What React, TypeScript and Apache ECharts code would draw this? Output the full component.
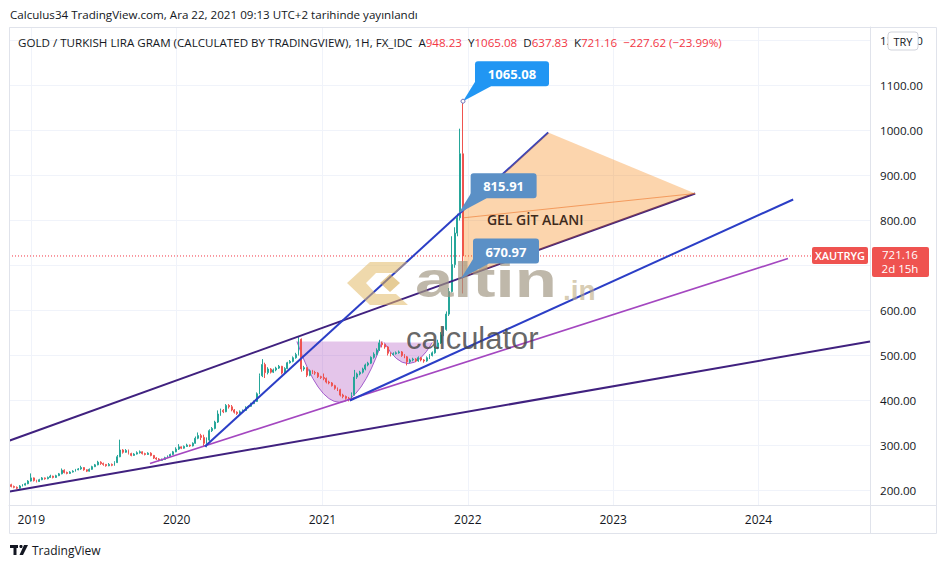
import React, { useEffect, useRef } from 'react';
import * as echarts from 'echarts';

// ---------- data ----------
const PUBLISHED = 'Calculus34 TradingView.com, Ara 22, 2021 09:13 UTC+2 tarihinde yayınlandı';
const HEADER_TITLE = 'GOLD / TURKISH LIRA GRAM (CALCULATED BY TRADINGVIEW), 1H, FX_IDC';
const OHLC_LETTERS = ['A', 'Y', 'D', 'K'];
const OHLC_VALUES = ['948.23', '1065.08', '637.83', '721.16'];
const CHANGE_TEXT = '−227.62 (−23.99%)';
const SYMBOL = 'XAUTRYG';
const COUNTDOWN = '2d 15h';
const CURRENCY = 'TRY';
const LAST_CLOSE = 721.16;

const AXIS_START = '2018-11-06';
const AXIS_END = '2024-10-07';
const Y_MIN = 167.8;
const Y_MAX = 1230;

const WEEK_START = '2018-11-12';
// weekly candles: [open, close, low, high]
const weeklyOCLH: number[][] = [
  [213, 209, 207, 215], [209, 207, 205, 211], [207, 205, 203, 209], [205, 210, 204, 212],
  [210, 212, 209, 214], [212, 215, 211, 217], [215, 221, 214, 223], [221, 228, 220, 238],
  // 2019
  [228, 222, 220, 229], [222, 220, 218, 224], [220, 224, 219, 226], [224, 228, 223, 230],
  [228, 226, 224, 229], [226, 229, 225, 231], [229, 232, 228, 235], [232, 229, 227, 233],
  [229, 233, 228, 235], [233, 237, 232, 239], [237, 245, 236, 249], [245, 240, 238, 247],
  [240, 238, 236, 242], [238, 241, 237, 243], [241, 243, 240, 245], [243, 246, 242, 248],
  [246, 248, 245, 250], [248, 251, 246, 255], [251, 246, 244, 252], [246, 243, 241, 247],
  [243, 247, 242, 249], [247, 253, 246, 255], [253, 257, 252, 259], [257, 263, 256, 266],
  [263, 260, 257, 265], [260, 258, 255, 262], [258, 255, 253, 259], [255, 258, 254, 261],
  [258, 256, 254, 260], [256, 262, 255, 265], [262, 275, 261, 279], [275, 290, 274, 313],
  [290, 285, 282, 292], [285, 289, 284, 292], [289, 282, 280, 291], [282, 278, 276, 284],
  [278, 281, 277, 283], [281, 284, 280, 287], [284, 286, 282, 289], [286, 282, 280, 287],
  [282, 280, 278, 284], [280, 283, 279, 285], [283, 278, 276, 285], [278, 272, 270, 279],
  [272, 270, 268, 274], [270, 267, 265, 272], [267, 269, 266, 271], [269, 273, 268, 275],
  [273, 276, 272, 278], [276, 280, 275, 282], [280, 286, 279, 288], [286, 292, 285, 296],
  // 2020
  [292, 297, 290, 303], [297, 294, 292, 298], [294, 298, 293, 300], [298, 301, 297, 304],
  [301, 299, 297, 302], [299, 305, 298, 307], [305, 316, 304, 320], [316, 322, 314, 329],
  [322, 318, 312, 326], [318, 305, 298, 324], [305, 312, 296, 318], [312, 333, 310, 336],
  [333, 338, 330, 341], [338, 352, 336, 355], [352, 370, 350, 378], [370, 378, 366, 382],
  [378, 375, 372, 381], [375, 389, 374, 392], [389, 386, 382, 392], [386, 379, 376, 390],
  [379, 374, 371, 381], [374, 371, 368, 376], [371, 375, 369, 378], [375, 378, 373, 380],
  [378, 385, 377, 387], [385, 387, 383, 389], [387, 393, 386, 395], [393, 398, 392, 400],
  [398, 415, 397, 418], [415, 455, 414, 460], [455, 480, 452, 492], [480, 462, 450, 484],
  [462, 470, 458, 474], [470, 463, 460, 472], [463, 468, 461, 471], [468, 472, 465, 475],
  [472, 476, 470, 479], [476, 461, 458, 477], [461, 471, 460, 474], [471, 484, 470, 486],
  [484, 487, 482, 490], [487, 495, 485, 498], [495, 502, 493, 506], [502, 536, 500, 541],
  [536, 470, 464, 538], [470, 473, 466, 477], [473, 456, 452, 474], [456, 466, 454, 469],
  [466, 462, 459, 468], [462, 461, 457, 466], [461, 453, 450, 463], [453, 451, 448, 455],
  // 2021
  [451, 449, 445, 460], [449, 441, 438, 451], [441, 439, 436, 444], [439, 433, 431, 441],
  [433, 427, 424, 435], [427, 424, 421, 429], [424, 412, 409, 426], [412, 409, 405, 415],
  [409, 405, 402, 411], [405, 402, 398, 408], [402, 413, 400, 418], [413, 452, 411, 468],
  [452, 459, 448, 462], [459, 463, 456, 466], [463, 470, 460, 473], [470, 479, 467, 482],
  [479, 483, 476, 486], [483, 496, 481, 498], [496, 503, 493, 507], [503, 512, 500, 516],
  [512, 528, 510, 535], [528, 524, 518, 531], [524, 519, 515, 526], [519, 505, 500, 521],
  [505, 502, 498, 507], [502, 504, 500, 507], [504, 506, 502, 509], [506, 508, 504, 511],
  [508, 500, 497, 510], [500, 497, 494, 503], [497, 486, 478, 499], [486, 490, 483, 493],
  [490, 492, 487, 495], [492, 488, 485, 494], [488, 495, 486, 498], [495, 490, 487, 497],
  [490, 488, 484, 492], [488, 495, 486, 498], [495, 500, 492, 503], [500, 506, 498, 509],
  [506, 516, 504, 520], [516, 528, 514, 535], [528, 546, 526, 552], [546, 558, 543, 565],
  [558, 592, 555, 598], [592, 642, 588, 650], [642, 702, 640, 765], [702, 772, 695, 785],
  [772, 806, 765, 815], [806, 948.23, 800, 1004], [948.23, 721.16, 637.83, 1065.08],
];

// trend lines drawn on the chart: [date, price]
const channelTop = [['2018-11-08', 311.1], ['2023-07-26', 860]];
const channelBottom = [['2018-11-08', 197.8], ['2024-10-07', 531.1]];
const steepSupport = [['2020-03-12', 297.8], ['2022-07-22', 995.6]];
const cupSupport = [['2021-03-11', 400], ['2024-03-28', 846.7]];
const violetSupport = [['2019-10-26', 260], ['2024-03-15', 715.6]];
const lastPriceLine = [[AXIS_START, LAST_CLOSE], [AXIS_END, LAST_CLOSE]];
// "gel git" zone
const zoneVertices = [['2021-12-21', 823], ['2022-07-22', 995.6], ['2023-07-26', 860], ['2021-12-21', 674]];
const zoneMidLine = [['2021-12-21', 806], ['2023-07-26', 860]];
// cup & handle arcs: [start, end, rim price, bottom price]
const cupArcs = [['2020-10-29', '2021-05-31', 531, 396], ['2021-06-05', '2021-10-04', 529, 482]];
// price callouts
const calloutPoints = [['2021-12-20', 1065.08], ['2021-12-09', 815.91], ['2021-12-15', 670.97]];
const calloutLabels = ['1065.08', '815.91', '670.97'];
const notePoints = [['2022-02-18', 802]];
const noteLabels = ['GEL GİT ALANI'];

// ---------- helpers ----------
const toTime = (s: string) => {
  const [y, m, d] = s.split('-').map(Number);
  return new Date(y, m - 1, d).getTime();
};
const DAY = 86400000;
const pts = (arr: any[]) => arr.map((p) => [toTime(p[0] as string), p[1] as number]);

const FONT = '"Open Sans", "Noto Sans", sans-serif';
const TEXT = '#131722';
const UP = '#26a69a';
const DOWN = '#ef5350';

export default function App() {
  const ref = useRef<HTMLDivElement>(null);

  useEffect(() => {
    if (!ref.current) return;
    const chart = echarts.init(ref.current, null, { renderer: 'svg' });
    const start = toTime(WEEK_START);
    const candleData = weeklyOCLH.map((c, i) => [start + i * 7 * DAY, c[0], c[1], c[2], c[3]]);
    const xMax = toTime(AXIS_END);

    const lineSeries = (data: any[], color: string, width: number, z: number, type: any = 'solid') => ({
      type: 'line',
      data: pts(data),
      symbol: 'none',
      silent: true,
      z,
      lineStyle: { color, width, type },
    });

    const zoneTimes = pts(zoneVertices);

    const option: any = {
      animation: false,
      grid: { left: 9, right: 75, top: 27, bottom: 63 },
      xAxis: {
        type: 'time',
        min: toTime(AXIS_START),
        max: xMax,
        splitNumber: 6,
        minInterval: 365 * DAY,
        maxInterval: 366 * DAY,
        axisLine: { show: true, lineStyle: { color: '#e0e3eb' } },
        axisTick: { show: false },
        splitLine: { show: true, lineStyle: { color: '#f0f3fa' } },
        axisLabel: {
          color: TEXT,
          fontFamily: FONT,
          fontSize: 12,
          margin: 8,
          showMinLabel: false,
          showMaxLabel: false,
          formatter: (v: number) => {
            const d = new Date(v);
            return d.getMonth() === 0 && d.getDate() === 1 ? String(d.getFullYear()) : '';
          },
        },
      },
      yAxis: {
        type: 'value',
        position: 'right',
        min: Y_MIN,
        max: Y_MAX,
        splitNumber: 10,
        minInterval: 100,
        maxInterval: 100,
        axisLine: { show: true, lineStyle: { color: '#e0e3eb' } },
        axisTick: { show: false },
        splitLine: { show: true, lineStyle: { color: '#f0f3fa' } },
        axisLabel: {
          color: TEXT,
          fontFamily: FONT,
          fontSize: 11.6,
          margin: 10,
          // labels hidden under the last-price tag are not drawn
          formatter: (v: number) =>
            Math.abs(v % 100) < 0.01 && Math.abs(v - LAST_CLOSE) > 30 ? v.toFixed(2) : '',
        },
      },
      series: [
        {
          type: 'custom',
          name: 'cup',
          z: 1,
          silent: true,
          data: cupArcs.map((a) => [toTime(a[0] as string), a[2], toTime(a[1] as string), a[3]]),
          encode: { x: [0, 2], y: [1, 3] },
          renderItem: (params: any, api: any) => {
            const l = api.coord([api.value(0), api.value(1)]);
            const r = api.coord([api.value(2), api.value(1)]);
            const b = api.coord([(api.value(0) + api.value(2)) / 2, api.value(3)]);
            const cy = 2 * b[1] - l[1];
            const curve = `M${l[0]},${l[1]} Q${b[0]},${cy} ${r[0]},${r[1]}`;
            return {
              type: 'group',
              children: [
                { type: 'path', shape: { pathData: curve + ' Z' }, style: { fill: 'rgba(156,39,176,0.27)', stroke: 'none' } },
                { type: 'path', shape: { pathData: curve }, style: { fill: 'none', stroke: '#a35ccc', lineWidth: 1 } },
              ],
            };
          },
        },
        lineSeries(lastPriceLine, '#f23645', 1, 2, [1, 2]),
        {
          type: 'candlestick',
          name: SYMBOL,
          z: 2,
          barWidth: 1.4,
          data: candleData,
          itemStyle: { color: UP, color0: DOWN, borderColor: UP, borderColor0: DOWN, borderWidth: 1 },
        },
        lineSeries(channelBottom, '#40217f', 2, 3),
        lineSeries(channelTop, '#40217f', 2, 3),
        lineSeries(violetSupport, '#a447c0', 1.6, 3),
        lineSeries(cupSupport, '#2b3ec6', 2, 3),
        lineSeries(steepSupport, '#2b3ec6', 2, 3),
        {
          type: 'custom',
          name: 'zone',
          z: 4,
          silent: true,
          data: zoneTimes,
          renderItem: (params: any, api: any) => {
            if (params.dataIndex !== 0) return null;
            const poly = zoneTimes.map((p) => api.coord(p));
            const mid = pts(zoneMidLine).map((p) => api.coord(p));
            return {
              type: 'group',
              children: [
                { type: 'polygon', shape: { points: poly }, style: { fill: 'rgba(245,124,0,0.32)' } },
                { type: 'polyline', shape: { points: mid }, style: { stroke: 'rgba(240,130,60,0.7)', lineWidth: 1, fill: 'none' } },
              ],
            };
          },
        },
        {
          type: 'custom',
          name: 'notes',
          z: 5,
          silent: true,
          data: pts(notePoints),
          renderItem: (params: any, api: any) => {
            const p = api.coord([api.value(0), api.value(1)]);
            return {
              type: 'text',
              style: {
                text: noteLabels[params.dataIndex],
                x: p[0],
                y: p[1],
                align: 'left',
                verticalAlign: 'middle',
                fill: '#3e2a1c',
                fontSize: 14,
                fontWeight: 600,
                fontFamily: FONT,
              },
            };
          },
        },
        {
          type: 'custom',
          name: 'callouts',
          z: 20,
          silent: true,
          data: pts(calloutPoints),
          renderItem: (params: any, api: any) => {
            const p = api.coord([api.value(0), api.value(1)]);
            const i = params.dataIndex;
            const label = calloutLabels[i];
            const w = label.length * 8 + 18;
            const h = 25;
            const bx = p[0] + 12;
            const by = p[1] - 40;
            const fill = i === 0 ? '#2196f3' : '#5b90c6';
            const children: any[] = [
              { type: 'polygon', shape: { points: [[p[0], p[1]], [bx + 1, by + h - 6], [bx + 16, by + h]] }, style: { fill } },
              { type: 'rect', shape: { x: bx, y: by, width: w, height: h, r: 3 }, style: { fill } },
              {
                type: 'text',
                style: {
                  text: label, x: bx + w / 2, y: by + h / 2 + 0.5, align: 'center', verticalAlign: 'middle',
                  fill: '#ffffff', fontSize: 13, fontWeight: 'bold', fontFamily: FONT,
                },
              },
            ];
            if (i === 0) {
              children.push({ type: 'circle', shape: { cx: p[0], cy: p[1], r: 2 }, style: { fill: '#ffffff', stroke: '#6a6fb8', lineWidth: 1 } });
            }
            return { type: 'group', children };
          },
        },
        {
          type: 'custom',
          name: 'pricetag',
          z: 21,
          silent: true,
          data: [[xMax, LAST_CLOSE]],
          renderItem: (params: any, api: any) => {
            const p = api.coord([api.value(0), api.value(1)]);
            return {
              type: 'group',
              children: [
                { type: 'rect', shape: { x: p[0] - 58, y: p[1] - 9, width: 56, height: 17, r: 2 }, style: { fill: DOWN } },
                {
                  type: 'text',
                  style: { text: SYMBOL, x: p[0] - 30, y: p[1] - 0.5, align: 'center', verticalAlign: 'middle', fill: '#fff', fontSize: 11, fontWeight: 600, fontFamily: FONT },
                },
                { type: 'rect', shape: { x: p[0] + 2, y: p[1] - 9, width: 57, height: 30, r: 2 }, style: { fill: DOWN } },
                {
                  type: 'text',
                  style: { text: LAST_CLOSE.toFixed(2), x: p[0] + 30, y: p[1] - 1.5, align: 'center', verticalAlign: 'middle', fill: '#fff', fontSize: 11.5, fontFamily: FONT },
                },
                {
                  type: 'text',
                  style: { text: COUNTDOWN, x: p[0] + 30, y: p[1] + 13, align: 'center', verticalAlign: 'middle', fill: '#fff', fontSize: 11.5, fontFamily: FONT },
                },
              ],
            };
          },
        },
      ],
      graphic: [
        // frame
        { type: 'rect', z: 30, silent: true, shape: { x: 9.5, y: 27.5, width: 927, height: 506 }, style: { fill: 'none', stroke: '#e0e3eb', lineWidth: 1 } },
        { type: 'line', z: 30, silent: true, shape: { x1: 870.5, y1: 505, x2: 870.5, y2: 533 }, style: { stroke: '#e0e3eb', lineWidth: 1 } },
        { type: 'line', z: 30, silent: true, shape: { x1: 870, y1: 505.5, x2: 936, y2: 505.5 }, style: { stroke: '#e0e3eb', lineWidth: 1 } },
        // publish line
        {
          type: 'text', z: 30, silent: true,
          style: { text: PUBLISHED, x: 10, y: 14, verticalAlign: 'middle', textVerticalAlign: 'middle', fill: TEXT, font: `11.6px ${FONT}` },
        },
        // header
        {
          type: 'text', z: 30, silent: true,
          style: {
            x: 18, y: 42, verticalAlign: 'middle', textVerticalAlign: 'middle',
            text:
              `{d|${HEADER_TITLE}  ${OHLC_LETTERS[0]}}{r|${OHLC_VALUES[0]}}` +
              `{d|  ${OHLC_LETTERS[1]}}{r|${OHLC_VALUES[1]}}` +
              `{d|  ${OHLC_LETTERS[2]}}{r|${OHLC_VALUES[2]}}` +
              `{d|  ${OHLC_LETTERS[3]}}{r|${OHLC_VALUES[3]}}` +
              `{r|  ${CHANGE_TEXT}}`,
            rich: {
              d: { fill: TEXT, fontSize: 11.6, fontFamily: FONT },
              r: { fill: '#f23645', fontSize: 11.6, fontFamily: FONT },
            },
          },
        },
        // currency box
        { type: 'rect', z: 30, silent: true, shape: { x: 888, y: 32, width: 30, height: 18, r: 3 }, style: { fill: '#ffffff', stroke: '#d1d4dc', lineWidth: 1 } },
        {
          type: 'text', z: 31, silent: true,
          style: { text: CURRENCY, x: 903, y: 41.5, align: 'center', textAlign: 'center', verticalAlign: 'middle', textVerticalAlign: 'middle', fill: TEXT, font: `11px ${FONT}` },
        },
        // watermark logo
        {
          type: 'polygon', z: 15, silent: true,
          shape: { points: [[347, 283], [370, 262], [408, 262], [396, 273], [376, 273], [366, 283], [376, 294], [396, 294], [408, 305], [370, 305]] },
          style: { fill: 'rgba(226,186,104,0.55)' },
        },
        {
          type: 'polygon', z: 15, silent: true,
          shape: { points: [[380, 283], [390, 274], [400, 283], [390, 292]] },
          style: { fill: 'rgba(214,170,80,0.6)' },
        },
        {
          type: 'text', z: 15, silent: true, x: 415, y: 305, scaleX: 1.38,
          style: { text: 'altin', x: 0, y: 0, verticalAlign: 'bottom', textVerticalAlign: 'bottom', fill: 'rgba(160,150,130,0.68)', font: `bold 50px "Liberation Sans", sans-serif` },
        },
        {
          type: 'text', z: 15, silent: true,
          style: { text: '.in', x: 563, y: 304, verticalAlign: 'bottom', textVerticalAlign: 'bottom', fill: 'rgba(190,172,130,0.62)', font: `bold 28px "Liberation Sans", sans-serif` },
        },
        {
          type: 'text', z: 15, silent: true,
          style: { text: 'calculator', x: 406, y: 338, verticalAlign: 'middle', textVerticalAlign: 'middle', fill: 'rgba(70,70,70,0.82)', font: `31px "Liberation Sans", sans-serif` },
        },
        // TradingView logo
        { type: 'rect', z: 30, silent: true, shape: { x: 10, y: 545, width: 8, height: 3 }, style: { fill: TEXT } },
        { type: 'rect', z: 30, silent: true, shape: { x: 13.5, y: 545, width: 3, height: 10 }, style: { fill: TEXT } },
        { type: 'circle', z: 30, silent: true, shape: { cx: 21, cy: 546.5, r: 1.6 }, style: { fill: TEXT } },
        { type: 'polygon', z: 30, silent: true, shape: { points: [[24, 545], [28, 545], [23, 555], [19.5, 555]] }, style: { fill: TEXT } },
        {
          type: 'text', z: 30, silent: true,
          style: { text: 'TradingView', x: 32, y: 550, verticalAlign: 'middle', textVerticalAlign: 'middle', fill: TEXT, font: `12px ${FONT}` },
        },
      ],
    };

    chart.setOption(option);
    return () => chart.dispose();
  }, []);

  return <div ref={ref} style={{ position: 'fixed', left: 0, top: 0, width: 945, height: 568, background: '#ffffff' }} />;
}
